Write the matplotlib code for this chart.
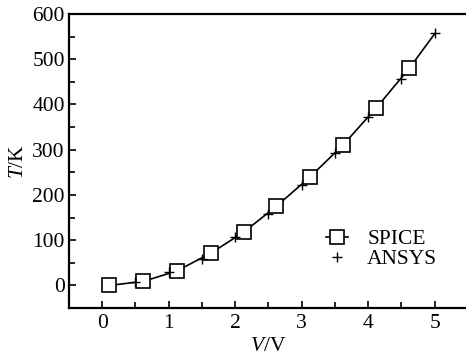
import matplotlib
matplotlib.use("Agg")
from matplotlib import pyplot as plt
from matplotlib.ticker import MultipleLocator

# SPICE curve (squares), the last point only extends the line
spice_v = [0.1, 0.62, 1.12, 1.63, 2.13, 2.62, 3.12, 3.62, 4.12, 4.62, 5.0]
spice_t = [0, 9, 32, 71, 118, 175, 239, 310, 392, 480, 556]

# ANSYS results (plus signs)
ansys_v = [0.5, 1.0, 1.5, 2.0, 2.5, 3.0, 3.5, 4.0, 4.5, 5.0]
ansys_t = [8, 29, 59, 107, 159, 221, 292, 373, 457, 557]

plt.rcParams["font.family"] = ["Liberation Serif", "DejaVu Serif"]
plt.rcParams["mathtext.fontset"] = "custom"
plt.rcParams["mathtext.it"] = "Liberation Serif:italic"
plt.rcParams["mathtext.rm"] = "Liberation Serif"

fs = 15.5

fig = plt.figure(figsize=(4.66, 3.57), dpi=100)
ax = fig.add_axes([0.148, 0.137, 0.856, 0.824])

ax.plot(spice_v, spice_t, color="black", lw=1.2, marker="s", ms=9.5,
        mfc="white", mec="black", mew=1.2, markevery=list(range(10)),
        label="SPICE")
ax.plot(ansys_v, ansys_t, ls="none", marker="+", ms=7, mew=1.0,
        color="black", label="ANSYS", zorder=3)

ax.set_xlim(-0.5, 5.5)
ax.set_ylim(-50, 600)
ax.xaxis.set_major_locator(MultipleLocator(1))
ax.xaxis.set_minor_locator(MultipleLocator(0.5))
ax.yaxis.set_major_locator(MultipleLocator(100))
ax.yaxis.set_minor_locator(MultipleLocator(50))
ax.tick_params(which="both", direction="in", labelsize=fs, width=1.2)
ax.tick_params(which="major", length=5)
ax.tick_params(axis="y", which="major", pad=3)
ax.tick_params(axis="x", which="major", pad=4)
ax.tick_params(which="minor", length=4)
for side in ["left", "bottom", "top"]:
    ax.spines[side].set_linewidth(1.6)
ax.spines["right"].set_visible(False)

ax.set_xlabel("$V$/V", fontsize=fs, labelpad=3)
ax.set_ylabel("$T$/K", fontsize=fs, labelpad=3)

ax.legend(loc="upper left", bbox_to_anchor=(0.668, 0.4), frameon=False,
          fontsize=fs, handlelength=1.0, handletextpad=0.9, labelspacing=0.0,
          borderpad=0.2, bbox_transform=fig.transFigure)

fig.savefig("out.png", dpi=100)
